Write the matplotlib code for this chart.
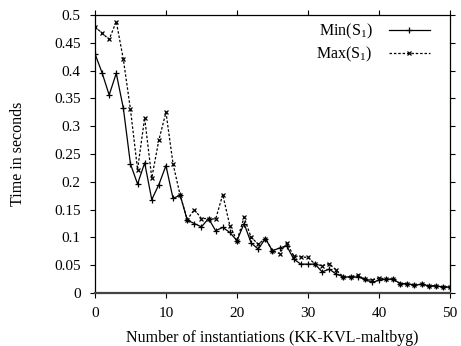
import matplotlib
matplotlib.use('Agg')
import matplotlib.pyplot as plt

plt.rcParams.update({
    'font.family': ['Liberation Serif', 'DejaVu Serif'],
    'font.size': 11.5,
    'mathtext.fontset': 'custom',
    'mathtext.rm': 'Liberation Serif',
    'mathtext.it': 'Liberation Serif:italic',
})

instantiations = list(range(51))

min_s1 = [0.430, 0.396, 0.356, 0.395, 0.332, 0.232, 0.196, 0.234, 0.168, 0.195,
          0.229, 0.170, 0.176, 0.131, 0.125, 0.119, 0.134, 0.112, 0.118, 0.109,
          0.094, 0.125, 0.090, 0.079, 0.098, 0.076, 0.081, 0.085, 0.061, 0.052,
          0.052, 0.052, 0.038, 0.043, 0.034, 0.029, 0.029, 0.029, 0.025, 0.019,
          0.023, 0.025, 0.025, 0.017, 0.017, 0.014, 0.016, 0.013, 0.013, 0.011,
          0.011]

max_s1 = [0.479, 0.467, 0.456, 0.488, 0.420, 0.330, 0.222, 0.315, 0.207, 0.275,
          0.325, 0.232, 0.176, 0.132, 0.150, 0.134, 0.134, 0.133, 0.177, 0.121,
          0.094, 0.136, 0.100, 0.088, 0.098, 0.076, 0.071, 0.090, 0.067, 0.065,
          0.064, 0.052, 0.049, 0.053, 0.041, 0.029, 0.029, 0.032, 0.025, 0.023,
          0.0275, 0.025, 0.025, 0.017, 0.017, 0.014, 0.016, 0.013, 0.013, 0.011,
          0.011]

y_ticks = [0, 0.05, 0.1, 0.15, 0.2, 0.25, 0.3, 0.35, 0.4, 0.45, 0.5]
y_tick_labels = ['0', '0.05', '0.1', '0.15', '0.2', '0.25', '0.3', '0.35',
                 '0.4', '0.45', '0.5']
x_ticks = [0, 10, 20, 30, 40, 50]

fig = plt.figure(figsize=(4.61, 3.46), dpi=100)
ax = fig.add_axes([0.206, 0.153, 0.770, 0.804])

ax.plot(instantiations, min_s1, color='black', linestyle='-', linewidth=0.9,
        marker='+', markersize=4, markeredgewidth=0.9, label='Min(S$_1$)')
ax.plot(instantiations, max_s1, color='black', linestyle=(0, (2, 1.5)), linewidth=0.9,
        marker='x', markersize=3.5, markeredgewidth=0.9, label='Max(S$_1$)')

ax.set_xlim(0, 50)
ax.set_ylim(0, 0.5)
ax.set_xticks(x_ticks)
ax.set_yticks(y_ticks)
ax.set_yticklabels(y_tick_labels)
ax.tick_params(direction='out', top=True, right=True, length=3.8, width=0.8,
               labelsize=11, pad=6.5)

for side in ['top', 'right', 'left']:
    ax.spines[side].set_linewidth(0.9)
ax.spines['bottom'].set_linewidth(1.6)
ax.spines['bottom'].set_color('#444444')

ax.set_xlabel('Number of instantiations (KK-KVL-maltbyg)', labelpad=7)
ax.set_ylabel('Time in seconds', labelpad=20)

ax.legend(loc='upper right', frameon=False, markerfirst=False, handlelength=2.6,
          handletextpad=1.0, labelspacing=0.22, borderpad=0, borderaxespad=0,
          bbox_to_anchor=(0.944, 0.975))

fig.savefig('out.png', dpi=100)
